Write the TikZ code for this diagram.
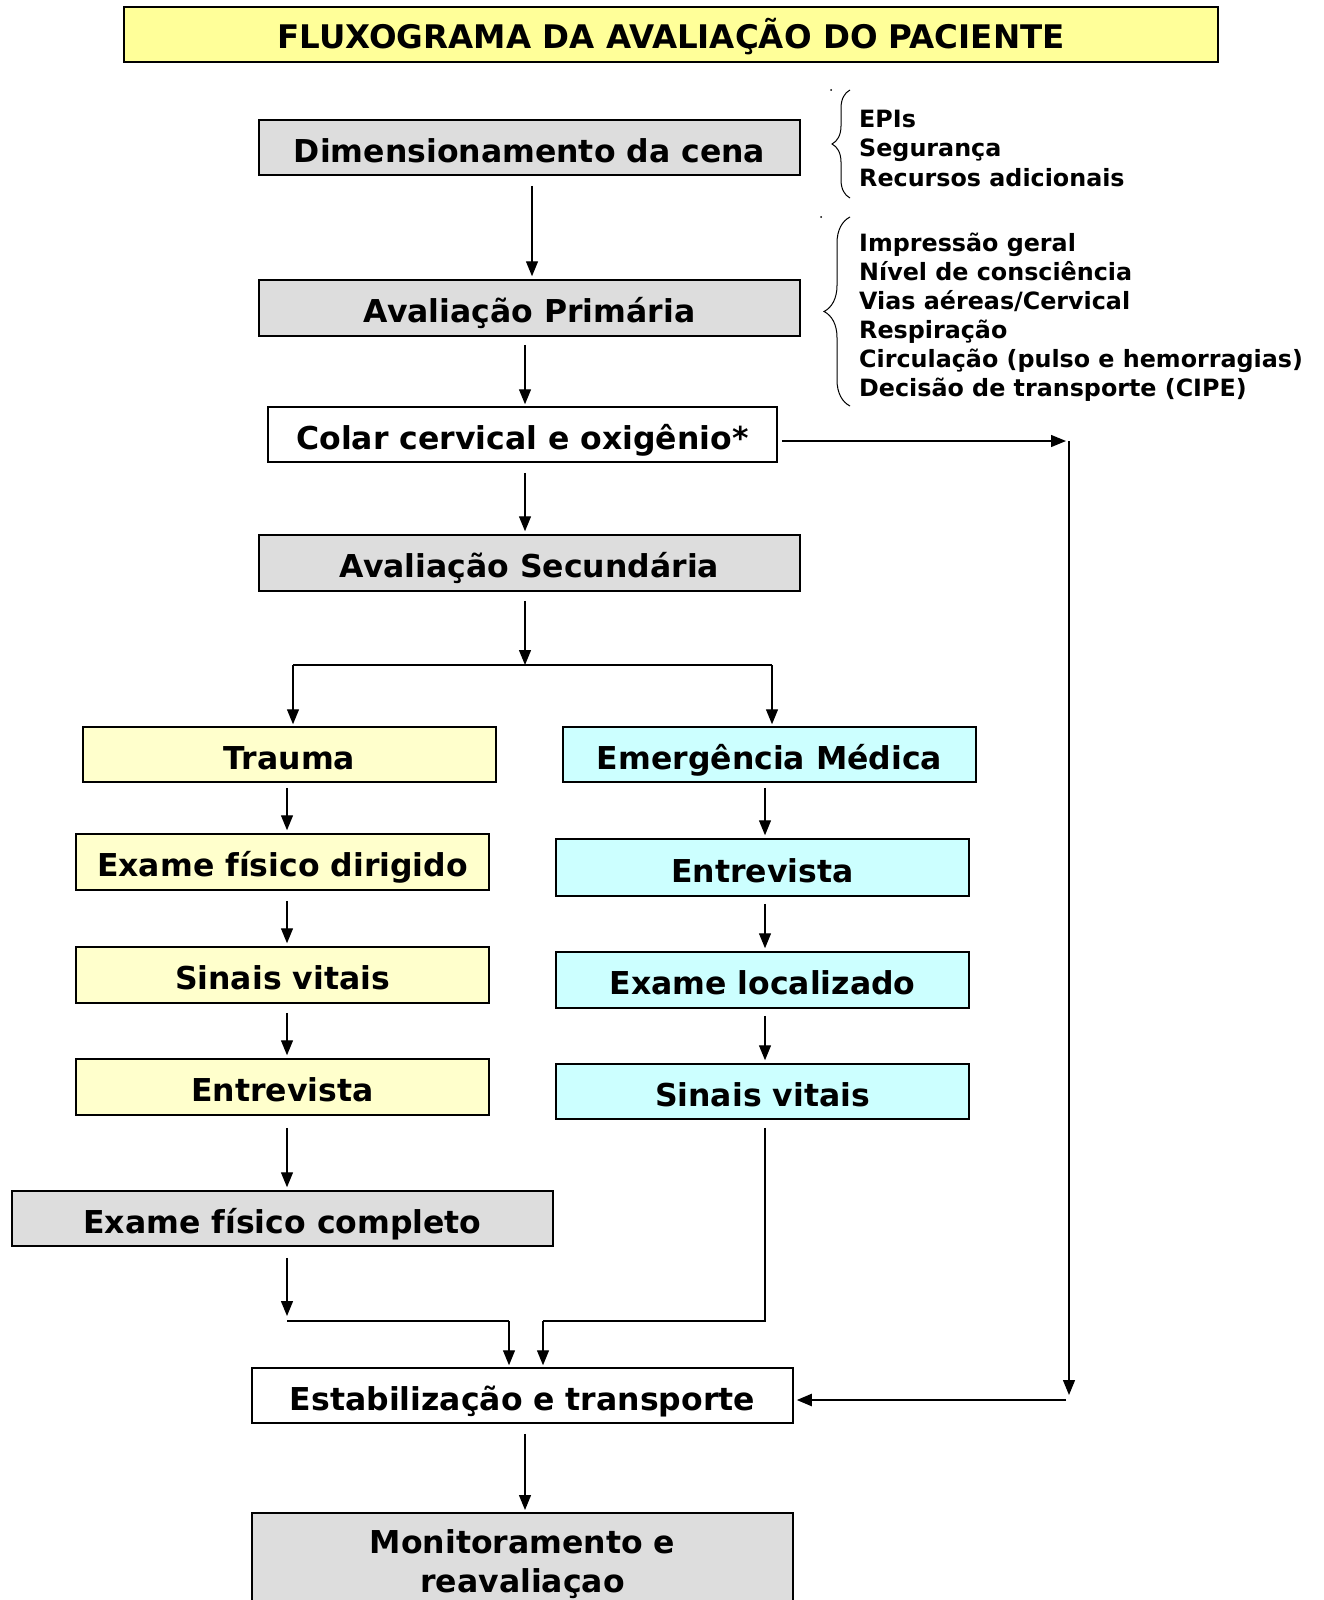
\documentclass[tikz,border=0pt]{standalone}
\usepackage{fontspec}
\setmainfont{DejaVu Sans}
\usetikzlibrary{arrows.meta,decorations.pathreplacing,calc}
\definecolor{titleY}{HTML}{FFFF99}
\definecolor{boxG}{HTML}{DDDDDD}
\definecolor{boxY}{HTML}{FFFFCC}
\definecolor{boxC}{HTML}{CCFFFF}
\tikzset{
  box/.style={draw=black, line width=1.5pt, inner sep=0pt, text height=30pt, text depth=1pt, font=\bfseries\fontsize{31.5}{36}\selectfont},
  wide/.style={box, minimum width=541pt, minimum height=55pt},
  col/.style={box, minimum width=413pt, minimum height=56pt},
  arr/.style={line width=1.3pt, -{Triangle[width=12pt,length=15pt]}},
  ln/.style={line width=1.3pt},
  lst/.style={anchor=base west, inner sep=0pt, font=\bfseries\fontsize{23.8}{28}\selectfont},
  brc/.style={line width=1pt, decorate, decoration={brace, amplitude=18pt}}
}
\begin{document}
\begin{tikzpicture}[x=1pt,y=-1pt]
\clip (0,0) rectangle (1324,1600);
\fill[white] (0,0) rectangle (1324,1600);
% title
\node[box, fill=titleY, minimum width=1094pt, minimum height=55pt, font=\bfseries\fontsize{32.5}{36}\selectfont] (title) at (671,34.5) {FLUXOGRAMA DA AVALIAÇÃO DO PACIENTE};
% main column
\node[wide, fill=boxG] (dim) at (529.5,147.5) {Dimensionamento da cena};
\node[wide, fill=boxG, minimum height=56pt] (prim) at (529.5,308) {Avaliação Primária};
\node[box, fill=white, minimum width=509pt, minimum height=55pt] (colar) at (522.5,434.5) {Colar cervical e oxigênio*};
\node[wide, fill=boxG, minimum height=56pt] (sec) at (529.5,563) {Avaliação Secundária};
% trauma column
\node[col, fill=boxY, minimum height=55pt] (trauma) at (289.5,754.5) {Trauma};
\node[col, fill=boxY] (efd) at (282.5,862) {Exame físico dirigido};
\node[col, fill=boxY] (svl) at (282.5,975) {Sinais vitais};
\node[col, fill=boxY] (entl) at (282.5,1087) {Entrevista};
\node[wide, fill=boxG] (efc) at (282.5,1218.5) {Exame físico completo};
% medical column
\node[col, fill=boxC, minimum height=55pt] (em) at (769.5,754.5) {Emergência Médica};
\node[col, fill=boxC, minimum height=57pt] (entr) at (762.5,867.5) {Entrevista};
\node[col, fill=boxC] (el) at (762.5,980) {Exame localizado};
\node[col, fill=boxC, minimum height=55pt] (svr) at (762.5,1091.5) {Sinais vitais};
% bottom
\node[wide, fill=white] (estab) at (522.5,1395.5) {Estabilização e transporte};
\node[wide, fill=boxG, minimum height=110pt, anchor=north] (mon) at (522.5,1512) {};
\node[inner sep=0pt, anchor=base, font=\bfseries\fontsize{31.5}{36}\selectfont] (mon1) at (522.5,1553) {Monitoramento e};
\node[inner sep=0pt, anchor=base, font=\bfseries\fontsize{31.5}{36}\selectfont] (mon2) at (522.5,1592) {reavaliaçao};
% lists
\node[lst] (a1) at (859,128) {EPIs};
\node[lst] (a2) at (859,157) {Segurança};
\node[lst] (a3) at (859,186) {Recursos adicionais};
\node[lst] (b1) at (859,251) {Impressão geral};
\node[lst] (b2) at (859,280) {Nível de consciência};
\node[lst] (b3) at (859,309) {Vias aéreas/Cervical};
\node[lst] (b4) at (859,338) {Respiração};
\node[lst] (b5) at (859,367) {Circulação (pulso e hemorragias)};
\node[lst] (b6) at (859,396) {Decisão de transporte (CIPE)};
% braces
\coordinate (br1b) at (850,198);
\coordinate (br1t) at (850,90);
\coordinate (br2b) at (850,406);
\coordinate (br2t) at (850,217);
\draw[brc] (br1b) -- (br1t);
\draw[brc, decoration={brace, amplitude=26pt}] (br2b) -- (br2t);
\fill (831,90) circle (1pt);
\fill (821,217) circle (1pt);
% main arrows
\coordinate (s1) at ($(dim.south)+(2.5,10)$);
\draw[arr, shorten >=3pt] (s1) -- (s1 |- prim.north);
\coordinate (s2) at ($(prim.south)+(-4.5,8)$);
\draw[arr, shorten >=2pt] (s2) -- (s2 |- colar.north);
\coordinate (s3) at ($(colar.south)+(2.5,10)$);
\draw[arr, shorten >=3pt] (s3) -- (s3 |- sec.north);
\coordinate (split) at (525,665);
\coordinate (s4) at ($(sec.south)+(-4.5,9)$);
\draw[arr] (s4) -- (split);
\coordinate (splitL) at (293,665);
\coordinate (splitR) at (772,665);
\draw[ln] (splitL) -- (splitR);
\draw[arr, shorten >=2pt] (splitL) -- (splitL |- trauma.north);
\draw[arr, shorten >=2pt] (splitR) -- (splitR |- em.north);
% trauma arrows
\coordinate (t1) at ($(trauma.south)+(-2.5,5)$);
\draw[arr, shorten >=3pt] (t1) -- (t1 |- efd.north);
\coordinate (t2) at ($(efd.south)+(4.5,10)$);
\draw[arr, shorten >=3pt] (t2) -- (t2 |- svl.north);
\coordinate (t3) at ($(svl.south)+(4.5,9)$);
\draw[arr, shorten >=3pt] (t3) -- (t3 |- entl.north);
\coordinate (t4) at ($(entl.south)+(4.5,12)$);
\draw[arr, shorten >=3pt] (t4) -- (t4 |- efc.north);
\coordinate (t5) at ($(efc.south)+(4.5,11)$);
\coordinate (mL) at (287,1316);
\coordinate (mL2) at (287,1321);
\coordinate (mLc) at (509,1321);
\draw[arr] (t5) -- (mL);
\draw[ln] (mL2) -- (mLc);
\draw[arr, shorten >=2pt] (mLc) -- (mLc |- estab.north);
% medical arrows
\coordinate (m1) at ($(em.south)+(-4.5,5)$);
\draw[arr, shorten >=3pt] (m1) -- (m1 |- entr.north);
\coordinate (m2) at ($(entr.south)+(2.5,7)$);
\draw[arr, shorten >=3pt] (m2) -- (m2 |- el.north);
\coordinate (m3) at ($(el.south)+(2.5,7)$);
\draw[arr, shorten >=3pt] (m3) -- (m3 |- svr.north);
\coordinate (m4) at ($(svr.south)+(2.5,8)$);
\coordinate (mR) at (765,1321);
\coordinate (mRc) at (543,1321);
\draw[ln] (m4) -- (mR) -- (mRc);
\draw[arr, shorten >=2pt] (mRc) -- (mRc |- estab.north);
% right loop
\coordinate (lpA) at (1066,441);
\coordinate (lpT) at (1069,441);
\coordinate (lpB) at (1069,1395);
\coordinate (lpC) at (1066,1400);
\draw[arr] ([xshift=4pt]colar.east |- lpA) -- (lpA);
\draw[arr] (lpT) -- (lpB);
\draw[line width=2.2pt, -{Triangle[width=12pt,length=15pt]}] (lpC) -- ([xshift=3pt]estab.east |- lpC);
% bottom
\coordinate (e1) at ($(estab.south)+(2.5,10)$);
\draw[arr, shorten >=2pt] (e1) -- (e1 |- mon.north);
\end{tikzpicture}
\end{document}
